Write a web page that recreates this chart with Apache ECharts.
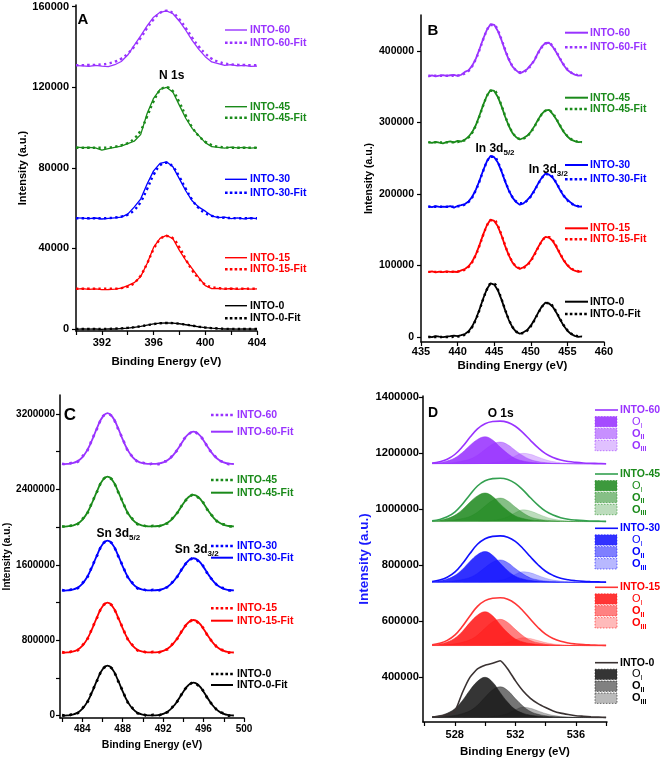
<!DOCTYPE html>
<html><head><meta charset="utf-8">
<script src="https://cdn.jsdelivr.net/npm/echarts@6.0.0/dist/echarts.min.js"></script>
<style>html,body{margin:0;padding:0;background:#fff}#c{width:661px;height:759px}</style>
</head><body><div id="c"></div>
<script>
// ---------- Panel A : N 1s ----------
const A_x = [390,390.5,391,391.5,392,392.5,393,393.5,394,394.5,395,395.5,396,396.5,397,397.5,398,398.5,399,399.5,400,400.5,401,401.5,402,402.5,403,403.5,404];
const A_60_raw = [130800,130600,130400,130900,130500,130300,131200,132800,136000,140800,145500,150500,154800,157200,157900,156500,152800,148200,143200,138800,135200,132600,131800,130900,131200,130600,130900,130400,130500];
const A_60_fit = [131000,131000,131050,131150,131350,131800,132700,134200,136700,140200,144500,149400,153700,156900,158000,156900,153700,149400,144500,140200,136700,134200,132700,131800,131350,131150,131050,131000,131000];
const A_45_raw = [90300,90000,90200,89900,88800,89500,90200,90800,92000,93200,96500,107000,114500,119000,120000,117500,111000,104500,99500,96000,92500,90500,90200,89800,90300,89900,90200,89800,90000];
const A_45_fit = [90000,90000,90000,90000,90000,90100,90500,91200,92300,94500,98500,105500,113000,118500,120000,118000,112500,105800,100000,95800,93000,91300,90500,90200,90000,90000,90000,90000,90000];
const A_30_raw = [55200,55000,54800,55100,54600,54900,55200,55500,57000,60500,64500,72000,78500,82200,83000,80500,74500,68500,63500,60500,58500,56200,55300,55500,54800,55200,54700,55100,54800];
const A_30_fit = [55000,55000,55000,55000,55000,55100,55300,55800,56800,59000,63000,69500,76500,81200,82500,80500,75500,69500,64000,60000,57500,56200,55500,55200,55100,55000,55000,55000,55000];
const A_15_raw = [19800,20000,19700,19900,19500,19600,19800,20300,21500,23000,26000,32500,40500,45000,46500,44800,39000,34000,29800,25500,21500,20000,20200,19800,20100,19700,20000,19800,19900];
const A_15_fit = [20000,20000,20000,20000,20000,20000,20000,20300,21000,22800,26500,32500,39500,44500,46200,45000,40500,34500,29000,25000,22000,20800,20300,20000,20000,20000,20000,20000,20000];
const A_0_raw = [-200,100,-100,0,-200,100,0,200,400,800,1300,1900,2500,2900,3000,2900,2600,2100,1600,1100,700,400,200,0,100,-100,0,-100,0];
const A_0_fit = [0,0,0,0,0,50,150,300,550,900,1350,1900,2450,2850,3000,2900,2600,2150,1650,1150,750,450,250,100,50,0,0,0,0];
const A_xTicks = [390,392,394,396,398,400,402,404];
const A_xLabels = [392,396,400,404];
const A_yLabels = [0,40000,80000,120000,160000];

// ---------- Panel B : In 3d ----------
const B_x = [436,436.5,437,437.5,438,438.5,439,439.5,440,440.5,441,441.5,442,442.5,443,443.5,444,444.5,445,445.5,446,446.5,447,447.5,448,448.5,449,449.5,450,450.5,451,451.5,452,452.5,453,453.5,454,454.5,455,455.5,456,456.5,457];
const B_60_raw = [364000,365500,364200,365300,366000,364800,365800,366200,364900,366500,370500,372800,379200,389000,402500,416800,429200,437200,436300,427600,414800,400200,387200,377800,372600,368500,370900,374300,380200,386800,397500,405800,410900,411200,405500,397600,388300,379800,373200,369400,366700,365200,365800];
const B_60_fit = [365000,365000,365000,365000,365000,365000,365000,365100,365500,366300,368200,371800,378400,388400,401400,415900,428500,436000,436000,428500,415900,401400,388500,378600,372500,370000,370400,373500,379300,387400,396600,404900,410100,410600,406300,398400,389200,380700,374100,369700,367200,365900,365300];
const B_45_raw = [272500,271300,272800,271600,270700,272200,273500,272100,274000,273200,275800,279800,286400,296300,309800,324400,337200,345100,343800,335500,322700,307800,294900,285000,279100,276000,278100,281200,286800,294700,303800,311900,316800,317300,311600,303900,294800,286500,280200,275700,273800,272300,272600];
const B_45_fit = [272000,272000,272000,272000,272000,272000,272000,272100,272500,273300,275200,278900,285600,295700,308900,323600,336400,344000,344000,336400,323600,308900,295800,285800,279600,277000,277300,280400,286000,293900,302900,311100,316100,316600,312400,304700,295700,287300,280900,276600,274200,272900,272300];
const B_30_raw = [182500,181600,182800,181900,182300,181700,183000,180900,183100,184200,185800,189500,196000,205900,218700,233000,245500,253100,251300,243800,231400,217200,204600,194800,188500,184800,186700,191200,197000,205100,214400,222700,228200,227000,222600,214700,205400,196900,191800,187500,183800,182100,182400];
const B_30_fit = [182000,182000,182000,182000,182000,182000,182000,182100,182500,183300,185100,188700,195200,205100,217900,232200,244600,252000,252000,244600,232200,217900,205200,195400,189400,186900,187400,190500,196300,204400,213600,221900,227100,227600,223300,215400,206200,197700,191100,186700,184200,182900,182300];
const B_15_raw = [90700,91600,90300,91400,90600,91800,90900,91200,90800,93100,95000,98800,105500,115500,128800,143400,156200,164100,162200,154600,141800,127000,114000,104000,97800,95200,97500,100900,107000,115800,125500,134300,139900,138900,134200,125800,115900,106900,100100,95200,92600,91100,91700];
const B_15_fit = [91000,91000,91000,91000,91000,91000,91000,91100,91500,92300,94200,97900,104600,114700,127900,142600,155400,163000,163000,155400,142600,127900,114800,104900,98700,96200,96700,100100,106200,114900,124700,133500,139000,139600,135000,126600,116800,107700,100700,96000,93400,92000,91300];
const B_0_raw = [500,-300,1200,400,-200,600,1100,1800,1300,2600,4100,7900,14800,25200,38800,53800,67000,74800,73200,65400,52200,37200,23700,13400,7200,4500,6500,9700,15800,24200,33800,42500,47900,46800,42300,34000,24400,15600,8700,4200,1600,300,800];
const B_0_fit = [0,0,0,0,0,0,0,150,500,1400,3300,7100,14000,24400,38000,53000,66200,74000,74000,66200,53000,38000,24500,14200,7900,5200,5700,8900,15000,23400,33000,41700,47000,47600,43100,34800,25200,16400,9500,4900,2300,1000,300];
const B_xLabels = [435,440,445,450,455,460];
const B_yLabels = [0,100000,200000,300000,400000];

// ---------- Panel C : Sn 3d ----------
const C_x = [482,482.5,483,483.5,484,484.5,485,485.5,486,486.5,487,487.5,488,488.5,489,489.5,490,490.5,491,491.5,492,492.5,493,493.5,494,494.5,495,495.5,496,496.5,497,497.5,498,498.5,499];
const C_60_raw = [2672000,2665000,2684000,2690000,2748000,2810000,2938000,3052000,3172000,3201000,3170000,3052000,2936000,2811000,2745000,2692000,2683000,2665000,2676000,2668000,2692000,2707000,2770000,2829000,2925000,2980000,3017000,2981000,2924000,2829000,2770000,2708000,2692000,2668000,2675000];
const C_60_fit = [2667800,2670200,2677800,2697300,2740000,2817400,2930500,3059800,3166300,3208000,3166300,3059800,2930500,2817400,2740000,2697300,2677800,2670700,2669900,2673900,2686400,2713700,2763200,2835500,2918200,2986400,3013000,2986400,2918200,2835500,2763200,2713700,2686400,2673900,2669100];
const C_45_raw = [2010000,2003000,2021000,2028000,2083000,2146000,2270000,2384000,2501000,2530000,2500000,2384000,2270000,2146000,2083000,2028000,2021000,2003000,2014000,2006000,2030000,2044000,2105000,2163000,2256000,2310000,2347000,2310000,2256000,2163000,2105000,2044000,2030000,2006000,2012000];
const C_45_fit = [2005800,2008200,2015600,2034700,2076700,2152600,2263600,2390500,2495100,2536000,2495100,2390500,2263600,2152600,2076700,2034700,2015600,2008700,2007800,2011700,2023900,2050500,2098700,2169100,2249700,2316100,2342000,2316100,2249700,2169100,2098700,2050500,2023900,2011700,2007000];
const C_30_raw = [1332000,1324000,1342000,1349000,1404000,1467000,1591000,1705000,1822000,1851000,1822000,1705000,1591000,1467000,1404000,1349000,1342000,1324000,1335000,1327000,1351000,1366000,1428000,1487000,1582000,1637000,1675000,1637000,1582000,1487000,1428000,1366000,1351000,1327000,1333000];
const C_30_fit = [1326800,1329200,1336600,1355700,1397700,1473600,1584600,1711500,1816100,1857000,1816100,1711500,1584600,1473600,1397700,1355700,1336600,1329700,1328900,1332900,1345300,1372400,1421600,1493500,1575700,1643500,1670000,1643500,1575700,1493500,1421600,1372400,1345300,1332900,1328100];
const C_15_raw = [674000,666000,684000,691000,746000,809000,933000,1047000,1164000,1193000,1164000,1047000,933000,809000,746000,691000,684000,666000,677000,669000,693000,708000,771000,830000,926000,982000,1020000,982000,926000,830000,771000,708000,693000,669000,676000];
const C_15_fit = [668800,671200,678600,697700,739700,815600,926600,1053500,1158100,1199000,1158100,1053500,926600,815600,739700,697700,678600,671700,670900,674900,687400,714800,764500,837000,919900,988300,1015000,988300,919900,837000,764500,714800,687400,674900,670100];
const C_0_raw = [6000,-2000,16000,24000,78000,141000,264000,378000,495000,524000,495000,378000,264000,141000,78000,24000,16000,-2000,9000,1000,25000,41000,103000,164000,260000,317000,355000,317000,260000,164000,103000,41000,25000,1000,8000];
const C_0_fit = [800,3200,10600,29700,71600,147300,258100,384800,489200,530000,489200,384800,258100,147300,71600,29700,10600,3700,2900,7000,19600,47300,97300,170500,254100,323100,350000,323100,254100,170500,97300,47300,19600,7000,2100];
const C_xTicks = [482,484,486,488,490,492,494,496,498,500];
const C_xLabels = [484,488,492,496,500];
const C_yTicks = [0,400000,800000,1200000,1600000,2000000,2400000,2800000,3200000];
const C_yLabels = [0,800000,1600000,2400000,3200000];

// ---------- Panel D : O 1s ----------
const D_x = [526.5,527,527.5,528,528.5,529,529.5,530,530.5,531,531.5,532,532.5,533,533.5,534,534.5,535,535.5,536,536.5,537,537.5,538];
const D_base = [1162000,956000,739000,513000,256000];
const D_60_env = [1165100,1169700,1178800,1195700,1223200,1256900,1287500,1305800,1313500,1315000,1310400,1296600,1273700,1246200,1220100,1198700,1185000,1175800,1170400,1167400,1165400,1164300,1163500,1162900];
const D_60_O1 = [1163900,1166900,1172700,1183300,1202700,1228000,1249300,1259000,1247400,1222100,1198900,1181400,1172700,1167800,1165400,1163900,1163200,1162800,1162500,1162300,1162200,1162100,1162000,1162000];
const D_60_O2 = [1162800,1163600,1165100,1167500,1172100,1179200,1193200,1213500,1232200,1240000,1230600,1210400,1191600,1177600,1170600,1166700,1164700,1163600,1162900,1162600,1162400,1162200,1162200,1162100];
const D_60_O3 = [1162000,1162000,1162000,1162000,1162000,1162400,1162800,1163900,1165800,1169600,1177200,1190500,1200000,1196200,1186700,1177200,1170400,1166600,1164300,1163100,1162600,1162300,1162200,1162000];
const D_45_env = [959100,963800,973100,990100,1018000,1052100,1083100,1101700,1109500,1111000,1106400,1092400,1069200,1041300,1014900,993200,979300,970000,964500,961400,959400,958300,957600,956900];
const D_45_O1 = [958000,961100,967200,978400,998800,1025400,1047800,1058000,1045800,1019200,994800,976400,967200,962100,959600,958000,957200,956800,956500,956300,956200,956100,956000,956000];
const D_45_O2 = [956800,957700,959400,961900,966900,974500,989600,1011400,1031600,1040000,1029900,1008100,987900,972800,965200,961000,958900,957700,957000,956700,956400,956300,956200,956100];
const D_45_O3 = [956000,956000,956000,956000,956000,956400,956800,958100,960200,964400,972800,987500,998000,993800,983300,972800,965200,961000,958500,957300,956600,956300,956200,956000];
const D_30_env = [742300,747300,757300,775500,805400,841900,875100,895000,903300,905000,900000,885100,860200,830300,802100,778800,763900,753900,748100,744800,742700,741500,740700,740000];
const D_30_O1 = [741200,744500,751100,763200,785200,813800,838000,849000,835800,807200,780800,761000,751100,745600,742900,741200,740300,739900,739600,739300,739200,739100,739000,739000];
const D_30_O2 = [739800,740600,742200,744600,749400,756600,771000,791800,811000,819000,809400,788600,769400,755000,747800,743800,741800,740600,740000,739600,739400,739200,739200,739100];
const D_30_O3 = [739000,739000,739000,739000,739000,739400,739800,740900,742800,746600,754200,767500,777000,773200,763700,754200,747400,743600,741300,740100,739600,739300,739200,739000];
const D_15_env = [516400,521600,531800,550600,581400,619000,653200,673700,682300,684000,678900,663500,637800,607100,578000,554000,538700,528400,522400,519000,516800,515600,514700,514000];
const D_15_O1 = [515400,519100,526300,539600,563800,595300,621900,634000,619500,588000,559000,537200,526300,520300,517200,515400,514500,514000,513600,513400,513200,513100,513000,513000];
const D_15_O2 = [513900,514900,516800,519600,525200,533700,550600,575000,597600,607000,595700,571300,548700,531800,523300,518600,516300,514900,514100,513800,513500,513300,513200,513100];
const D_15_O3 = [513000,513000,513000,513000,513000,513300,513600,514400,515800,518600,524200,534000,541000,538200,531200,524200,519200,516400,514700,513800,513400,513200,513100,513000];
const D_0_env = [258000,261000,266000,277000,345000,400000,430000,443000,450000,459000,430000,388000,352000,325000,306000,292000,280000,272000,267000,263000,261000,259000,258000,257000];
const D_0_O1 = [258900,263200,271800,287700,316500,353900,385600,400000,382700,345300,310700,284800,271800,264600,261000,258900,257700,257200,256700,256400,256300,256100,256000,256000];
const D_0_O2 = [257100,258200,260400,263700,270300,280200,300000,328600,355000,366000,352800,324200,297800,278000,268100,262600,259900,258200,257300,256900,256600,256300,256200,256100];
const D_0_O3 = [256000,256000,256000,256000,256000,256400,256700,257900,259700,263400,270800,283800,293000,289300,280100,270800,264100,260400,258200,257100,256600,256300,256100,256000];
const D_xTicks = [526,528,530,532,534,536,538];
const D_xLabels = [528,532,536];
const D_yLabels = [400000,600000,800000,1000000,1200000,1400000];

const samples = ['INTO-60','INTO-45','INTO-30','INTO-15','INTO-0'];
const colors = ['#9933ff','#1a8a1a','#0000ff','#ff0000','#000000'];
const dEnvColors = ['#9933ff','#33a050','#1010ff','#ff3535','#3a3232'];
const dRGB = [[153,51,255],[34,139,34],[20,20,255],[255,25,25],[25,25,25]];

// ---------- build ----------
const FONT = '"Liberation Sans", Arial, Helvetica, sans-serif';
const pair = (xs, ys) => xs.map((x, i) => [x, ys[i]]);
function ln(g, name, xs, ys, color, w, type, smooth, z) {
  return {type:'line', name, xAxisIndex:g, yAxisIndex:g, data:pair(xs, ys), showSymbol:false, symbol:'none',
    silent:true, animation:false, smooth: smooth || false, z: z || 2,
    lineStyle:{color, width:w, type: type || 'solid', cap:'butt'}};
}
const series = [];
const A_raw = [A_60_raw,A_45_raw,A_30_raw,A_15_raw,A_0_raw], A_fit = [A_60_fit,A_45_fit,A_30_fit,A_15_fit,A_0_fit];
const B_raw = [B_60_raw,B_45_raw,B_30_raw,B_15_raw,B_0_raw], B_fit = [B_60_fit,B_45_fit,B_30_fit,B_15_fit,B_0_fit];
const C_raw = [C_60_raw,C_45_raw,C_30_raw,C_15_raw,C_0_raw], C_fit = [C_60_fit,C_45_fit,C_30_fit,C_15_fit,C_0_fit];
const D_env = [D_60_env,D_45_env,D_30_env,D_15_env,D_0_env];
const D_O1 = [D_60_O1,D_45_O1,D_30_O1,D_15_O1,D_0_O1];
const D_O2 = [D_60_O2,D_45_O2,D_30_O2,D_15_O2,D_0_O2];
const D_O3 = [D_60_O3,D_45_O3,D_30_O3,D_15_O3,D_0_O3];
samples.forEach((s, i) => {
  const c = colors[i];
  series.push(ln(0, s, A_x, A_raw[i], c, 1.3, 'solid', false, 2));
  series.push(ln(0, s + '-Fit', A_x, A_fit[i], c, 2.4, [2.4, 3.2], 0.4, 3));
  series.push(ln(1, s, B_x, B_raw[i], c, 1.8, 'solid', false, 2));
  series.push(ln(1, s + '-Fit', B_x, B_fit[i], c, 2.4, [2.2, 3.6], 0.4, 3));
  series.push(ln(2, s, C_x, C_raw[i], c, 2.6, [2.6, 5], 0.3, 3));
  series.push(ln(2, s + '-Fit', C_x, C_fit[i], c, 1.8, 'solid', 0.5, 2));
  const rgb = dRGB[i];
  const alphas = i === 4 ? [0.88, 0.6, 0.32] : [0.88, 0.55, 0.3];
  [D_O1[i], D_O2[i], D_O3[i]].forEach((arr, k) => {
    const fc = `rgba(${rgb[0]},${rgb[1]},${rgb[2]},${alphas[k]})`;
    const sr = ln(3, s + ' O' + (k + 1), D_x, arr, fc, 0.6, 'solid', 0.4, 2 + k);
    sr.areaStyle = {color: fc, origin: D_base[i], opacity: 1};
    series.push(sr);
  });
  series.push(ln(3, s, D_x, D_env[i], dEnvColors[i], 1.6, 'solid', i === 4 ? 0.15 : 0.4, 6));
});

const grids = [
  {left:76, top:5, width:181, height:326},
  {left:421, top:15, width:183, height:327},
  {left:60, top:395, width:184, height:323},
  {left:423, top:396, width:184, height:326}
];
const axLine = {show:true, onZero:false, lineStyle:{color:'#000', width:1.5}};
const lblSty = {color:'#000', fontWeight:'bold', fontFamily:FONT, formatter: v => String(v)};
function xAx(g, min, max, ticks, labels, margin, nameGap, fs) {
  return {type:'value', gridIndex:g, min, max, splitLine:{show:false}, axisLine:axLine,
    axisTick:{show:true, length:4, lineStyle:{color:'#000', width:1.2}, customValues:ticks},
    axisLabel:Object.assign({fontSize:fs, margin, customValues:labels}, lblSty),
    name:'Binding Energy (eV)', nameLocation:'middle', nameGap,
    nameTextStyle:{color:'#000', fontWeight:'bold', fontSize:fs + 0.5, fontFamily:FONT, verticalAlign:'top'}};
}
function yAx(g, min, max, ticks, labels, margin, nameGap, fs, nfs, ncolor) {
  return {type:'value', gridIndex:g, min, max, splitLine:{show:false}, axisLine:axLine,
    axisTick:{show:true, length:4, lineStyle:{color:'#000', width:1.2}, customValues:ticks},
    axisLabel:Object.assign({fontSize:fs, margin, customValues:labels}, lblSty),
    name:'Intensity (a.u.)', nameLocation:'middle', nameGap,
    nameTextStyle:{color:ncolor || '#000', fontWeight:'bold', fontSize:nfs, fontFamily:FONT}};
}
const xAxis = [
  xAx(0, 390, 404, A_xTicks, A_xLabels, 6, 25, 11),
  xAx(1, 435, 460, B_xLabels, B_xLabels, 4, 18, 11),
  xAx(2, 481.8, 500, C_xTicks, C_xLabels, 6, 22, 10),
  xAx(3, 525.9, 538.06, D_xTicks, D_xLabels, 7, 24, 11)
];
const yAxis = [
  yAx(0, -1000, 160850, A_yLabels, A_yLabels, 7, 44, 11, 11),
  yAx(1, -7000, 450000, B_yLabels, B_yLabels, 7, 43, 10.5, 10.5),
  yAx(2, -24400, 3401000, C_yTicks, C_yLabels, 5, 48, 10, 10),
  yAx(3, 240400, 1404600, D_yLabels, D_yLabels, 4, 44, 11.2, 13.5, '#1a1aff')
];

// ---------- legends & annotations ----------
const G = [];
function txt(x, y, text, color, size, align, weight, rich) {
  const st = {text, x, y, fill:color, font:`${weight || 'bold'} ${size}px ${FONT}`, align:align || 'left', verticalAlign:'middle'};
  if (rich) st.rich = rich;
  G.push({type:'text', silent:true, z:100, style:st});
}
function seg(x1, x2, y, color, dotted, w) {
  G.push({type:'line', silent:true, z:100, shape:{x1, y1:y, x2, y2:y},
    style:{stroke:color, lineWidth:w || (dotted ? 2.6 : 1.6), lineDash: dotted ? [2.6, 2.2] : null}});
}
const subRich = (fs, sfs, color) => ({
  n:{fontSize:fs, fontWeight:'bold', fontFamily:FONT, fill:color, lineHeight:fs + 4, verticalAlign:'middle'},
  s:{fontSize:sfs, fontWeight:'bold', fontFamily:FONT, fill:color, lineHeight:sfs, verticalAlign:'bottom'}
});
// A legend
const aY = [[30,42.7],[106.7,117.7],[179.3,192.7],[257.7,269.3],[305.7,318.3]];
samples.forEach((s, i) => {
  seg(225, 247, aY[i][0], colors[i], false, 1.4); txt(250, aY[i][0], s, colors[i], 10.5);
  seg(225, 247, aY[i][1], colors[i], true); txt(250, aY[i][1], s + '-Fit', colors[i], 10.5);
});
// B legend
const bY = [[32.7,47.3],[97.7,109],[165,179.3],[228.3,239.3],[301.7,314]];
samples.forEach((s, i) => {
  seg(565, 588, bY[i][0], colors[i], false, 2); txt(590, bY[i][0], s, colors[i], 10.5);
  seg(565, 588, bY[i][1], colors[i], true); txt(590, bY[i][1], s + '-Fit', colors[i], 10.5);
});
// C legend
const cY = [[415,431.7],[480,492.7],[546,557.7],[608.3,620.7],[674,685]];
samples.forEach((s, i) => {
  seg(211, 233, cY[i][0], colors[i], true); txt(237, cY[i][0], s, colors[i], 10.5);
  seg(211, 233, cY[i][1], colors[i], false, 2); txt(237, cY[i][1], s + '-Fit', colors[i], 10.5);
});
// D legend
const dY = [410, 474, 528.3, 587.3, 662.7];
const subs = ['I','II','III'];
samples.forEach((s, i) => {
  const y = dY[i], rgb = dRGB[i];
  seg(595, 618, y, dEnvColors[i], false, 1.6); txt(620, y, s, colors[i], 10.5);
  const al = [0.88, 0.55, 0.3];
  [11.7, 23.5, 35.5].forEach((dy, k) => {
    G.push({type:'rect', silent:true, z:100, shape:{x:595, y:y + dy - 5.2, width:22, height:10.4},
      style:{fill:`rgba(${rgb[0]},${rgb[1]},${rgb[2]},${al[k]})`, stroke:`rgba(${rgb[0]},${rgb[1]},${rgb[2]},0.6)`, lineWidth:1, lineDash:[1.5,1.5]}});
    const r = subRich(11, 7, colors[i]);
    if (k === 0) { r.n.fontWeight = 'normal'; r.s.fontWeight = 'normal'; }
    txt(632, y + dy, '{n|O}{s|' + subs[k] + '}', colors[i], 11, 'left', 'bold', r);
  });
});
// panel letters & peak labels
txt(83, 20, 'A', '#000', 15, 'center');
txt(171.7, 76, 'N 1s', '#000', 12, 'center');
txt(433, 31, 'B', '#000', 15, 'center');
txt(495, 148.3, '{n|In 3d}{s|5/2}', '#000', 12, 'center', 'bold', subRich(12, 8, '#000'));
txt(548.3, 169.3, '{n|In 3d}{s|3/2}', '#000', 12, 'center', 'bold', subRich(12, 8, '#000'));
txt(70, 415, 'C', '#000', 17, 'center');
txt(118.3, 534, '{n|Sn 3d}{s|5/2}', '#000', 12, 'center', 'bold', subRich(12, 8, '#000'));
txt(196.7, 550, '{n|Sn 3d}{s|3/2}', '#000', 12, 'center', 'bold', subRich(12, 8, '#000'));
txt(433, 413.3, 'D', '#000', 14, 'center');
txt(500.7, 413.3, 'O 1s', '#000', 12, 'center');

const chart = echarts.init(document.getElementById('c'), null, {renderer:'canvas'});
chart.setOption({
  animation:false, backgroundColor:'#fff',
  textStyle:{fontFamily:FONT},
  grid:grids, xAxis, yAxis, series, graphic:G
});
</script></body></html>
